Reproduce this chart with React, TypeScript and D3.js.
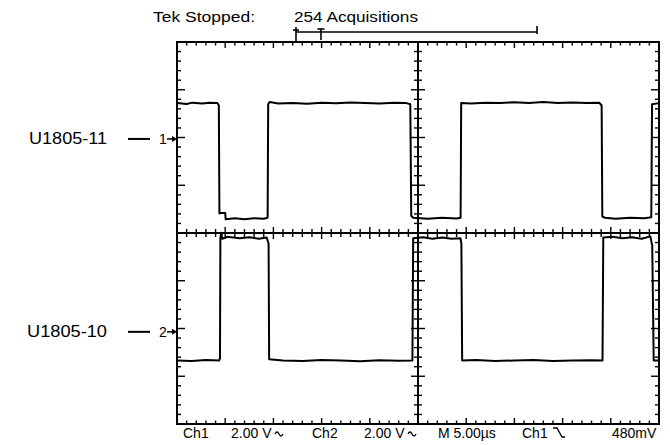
import React from "react";
import * as d3 from "d3";

// ---- data (time in µs, value in volts) ----
const timeDomain: [number, number] = [0, 50]; // 5 µs/div, 10 divisions
const voltsPerDiv = 2.0;
const ch1Position = 1.97; // divisions above center
const ch2Position = -2.07;

const ch1Trace: [number, number][] = [
  [0, 1.5], [1.0, 1.46], [1.6, 1.52], [2.6, 1.48], [3.4, 1.52], [4.2, 1.5], [4.34, 1.4],
  [4.4, -3.12], [4.55, -3.1], [5.0, -3.1], [5.05, -3.36], [6.0, -3.32], [7.0, -3.36], [8.0, -3.32], [9.0, -3.34], [9.4, -3.3],
  [9.46, 1.45], [9.6, 1.55], [10.5, 1.48], [12, 1.5], [13.5, 1.47], [15, 1.52], [16.5, 1.49], [18, 1.53], [19.5, 1.5], [21, 1.48], [22.5, 1.52], [23.8, 1.5], [24.2, 1.45],
  [24.3, -3.22], [24.5, -3.3], [26, -3.34], [27.5, -3.3], [29.0, -3.33], [29.42, -3.3],
  [29.48, 1.5], [30.5, 1.48], [32, 1.52], [33.5, 1.5], [35, 1.54], [36.5, 1.5], [38, 1.55], [39.5, 1.5], [41, 1.53], [42.5, 1.5], [43.8, 1.52], [44.05, 1.4],
  [44.12, -3.25], [44.4, -3.3], [45.5, -3.34], [47, -3.3], [48.5, -3.32], [49.2, -3.28],
  [49.28, 1.45], [50, 1.5],
];

const ch2Trace: [number, number][] = [
  [0, -1.2], [1.5, -1.22], [3, -1.18], [4.38, -1.2], [4.46, -1.1],
  [4.5, 3.95], [4.6, 4.15], [4.7, 3.9], [5.2, 3.98], [6.5, 3.92], [7.5, 3.96], [8.5, 3.9], [9.3, 3.95], [9.5, 3.7],
  [9.56, -1.15], [11, -1.2], [13, -1.22], [15, -1.18], [17, -1.2], [19, -1.23], [21, -1.19], [23, -1.21], [24.42, -1.2],
  [24.5, 3.92], [25.5, 3.96], [26.5, 3.9], [27.5, 3.95], [28.5, 3.9], [29.4, 3.92], [29.5, 3.7],
  [29.58, -1.2], [31, -1.18], [33, -1.22], [35, -1.2], [37, -1.18], [39, -1.22], [41, -1.2], [43, -1.19], [44.14, -1.2],
  [44.22, 3.95], [45.2, 3.98], [46.2, 3.92], [47.2, 3.96], [48.2, 3.9], [49.1, 4.0], [49.3, 3.6],
  [49.45, -1.2], [50, -1.2],
];

const channelLabels = ["U1805-11", "U1805-10"];
const channelNumbers = ["1", "2"];
const headerLabels = ["Tek Stopped:", "254 Acquisitions"];
const readoutLabels = ["Ch1", "2.00 V", "Ch2", "2.00 V", "M 5.00\u00b5s", "Ch1", "480mV"];

// ---- layout ----
const W = 670, H = 445;
const L = 177, R = 659, T = 42, B = 424;

export default function App() {
  const x = d3.scaleLinear().domain(timeDomain).range([L, R]);
  const yDiv = d3.scaleLinear().domain([-4, 4]).range([B, T]);
  const y1 = (v: number) => yDiv(ch1Position + v / voltsPerDiv);
  const y2 = (v: number) => yDiv(ch2Position + v / voltsPerDiv);
  const cx = x(25), cy = yDiv(0);

  const line1 = d3.line<[number, number]>().x((d) => x(d[0])).y((d) => y1(d[1]));
  const line2 = d3.line<[number, number]>().x((d) => x(d[0])).y((d) => y2(d[1]));

  const xTicks = d3.range(timeDomain[0], timeDomain[1] + 0.001, 1);
  const yTicks = d3.range(-4, 4.001, 0.2);
  const isMajX = (t: number) => Math.abs(t / 5 - Math.round(t / 5)) < 1e-6;
  const isMajY = (v: number) => Math.abs(v - Math.round(v)) < 1e-6;

  const font = "'Liberation Sans', Arial, sans-serif";

  const acSym = (x0: number, yb: number) =>
    `M${x0},${yb - 4} q2,-4 4,0 t4,0`;

  return (
    <svg width={W} height={H} style={{ position: "absolute", left: 0, top: 0, background: "#fff" }} fontFamily={font}>
      <rect x={0} y={0} width={W} height={H} fill="#fff" />
      {/* frame */}
      <rect x={L} y={T} width={R - L} height={B - T} fill="none" stroke="#000" strokeWidth={2} />
      {/* center crosshair */}
      <line x1={L} x2={R} y1={cy} y2={cy} stroke="#000" strokeWidth={2} />
      <line x1={cx} x2={cx} y1={T} y2={B} stroke="#000" strokeWidth={2} />
      {/* ticks */}
      <g stroke="#000" strokeWidth={1.4}>
        {xTicks.map((t) => {
          const m = isMajX(t);
          const px = x(t);
          return (
            <g key={"xt" + t}>
              <line x1={px} x2={px} y1={T} y2={T + (m ? 6 : 3.5)} />
              <line x1={px} x2={px} y1={B} y2={B - (m ? 6 : 3.5)} />
              <line x1={px} x2={px} y1={cy - (m ? 6 : 4)} y2={cy + (m ? 6 : 4)} />
            </g>
          );
        })}
        {yTicks.map((v) => {
          const m = isMajY(v);
          const py = yDiv(v);
          return (
            <g key={"yt" + v.toFixed(1)}>
              <line x1={L} x2={L + (m ? 8 : 4)} y1={py} y2={py} />
              <line x1={R} x2={R - (m ? 8 : 4)} y1={py} y2={py} />
              <line x1={cx - (m ? 7 : 4)} x2={cx + (m ? 7 : 4)} y1={py} y2={py} />
            </g>
          );
        })}
      </g>
      {/* traces */}
      <path d={line1(ch1Trace) || ""} fill="none" stroke="#000" strokeWidth={2} strokeLinejoin="round" />
      <path d={line2(ch2Trace) || ""} fill="none" stroke="#000" strokeWidth={2} strokeLinejoin="round" />

      {/* header */}
      <text x={153} y={22} fontSize={14} textLength={102} lengthAdjust="spacingAndGlyphs">{headerLabels[0]}</text>
      <text x={294} y={22} fontSize={14} textLength={124} lengthAdjust="spacingAndGlyphs">{headerLabels[1]}</text>
      {/* record bar */}
      <g stroke="#000" strokeWidth={1.6} fill="none">
        <line x1={296} x2={537} y1={32} y2={32} />
        <line x1={296} x2={296} y1={27} y2={41} />
        <line x1={293} x2={299} y1={30} y2={30} />
        <line x1={321} x2={321} y1={29} y2={40} />
        <line x1={317.5} x2={324.5} y1={29} y2={29} />
        <line x1={537} x2={537} y1={26} y2={34} />
      </g>

      {/* channel labels */}
      {[y1(0), y2(0)].map((gy, i) => (
        <g key={"ch" + i}>
          <text x={i === 0 ? 29 : 27} y={gy + 5} fontSize={17} textLength={i === 0 ? 78 : 80} lengthAdjust="spacingAndGlyphs">
            {channelLabels[i]}
          </text>
          <line x1={128} x2={150} y1={gy} y2={gy} stroke="#000" strokeWidth={2} />
          <text x={159} y={gy + 5} fontSize={14}>{channelNumbers[i]}</text>
          <line x1={167} x2={173} y1={gy} y2={gy} stroke="#000" strokeWidth={1.5} />
          <path d={`M${177},${gy} L${172},${gy - 3} L${172},${gy + 3} Z`} fill="#000" />
        </g>
      ))}

      {/* readout */}
      <g fontSize={14}>
        <text x={183} y={438}>{readoutLabels[0]}</text>
        <text x={231} y={438}>{readoutLabels[1]}</text>
        <path d={acSym(275, 438)} fill="none" stroke="#000" strokeWidth={1.3} />
        <text x={312} y={438}>{readoutLabels[2]}</text>
        <text x={364} y={438}>{readoutLabels[3]}</text>
        <path d={acSym(408, 438)} fill="none" stroke="#000" strokeWidth={1.3} />
        <text x={438} y={438}>{readoutLabels[4]}</text>
        <text x={522} y={438}>{readoutLabels[5]}</text>
        <path d="M553,428 L557,428 L562,437 L565,437" fill="none" stroke="#000" strokeWidth={1.3} />
        <text x={612} y={438}>{readoutLabels[6]}</text>
      </g>
    </svg>
  );
}
